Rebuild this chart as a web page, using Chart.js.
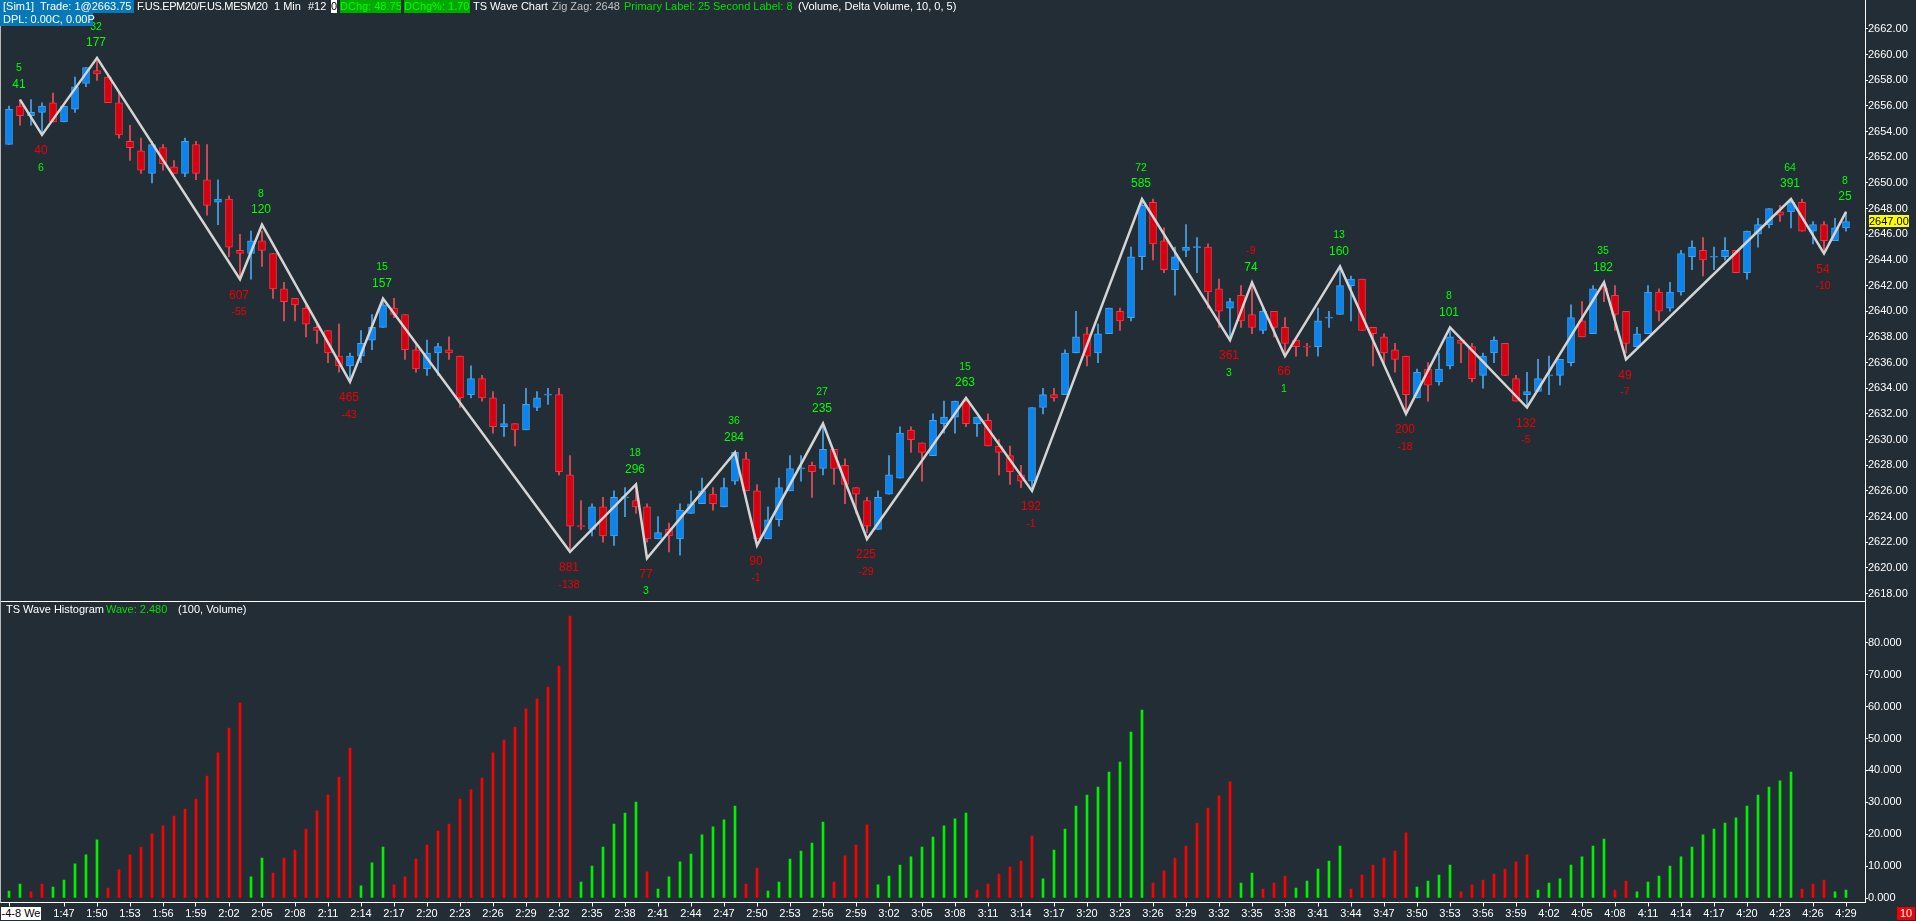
<!DOCTYPE html>
<html>
<head>
<meta charset="utf-8">
<title>TS Wave Chart</title>
<script src="https://cdn.jsdelivr.net/npm/chart.js@4"></script>
<style>
html,body{margin:0;padding:0;background:#222d35;overflow:hidden}
#wrap{position:relative;width:1916px;height:921px}
canvas{position:absolute;left:0;top:0}
.t{position:absolute;font:11px "Liberation Sans",Arial,sans-serif;color:#fff;white-space:pre;line-height:13px;height:13px;z-index:2}
</style>
</head>
<body>
<div id="wrap">
<canvas id="chart" width="1916" height="921"></canvas>
<span class="t" style="left:0;top:0;width:134px;background:#0879b8"></span>
<span class="t" style="left:3px;top:0">[Sim1]</span>
<span class="t" style="left:40px;top:0">Trade: 1@2663.75</span>
<span class="t" style="left:137px;top:0;letter-spacing:-0.35px">F.US.EPM20/F.US.MESM20</span>
<span class="t" style="left:274px;top:0">1 Min</span>
<span class="t" style="left:308px;top:0">#12</span>
<span class="t" style="left:331px;top:0;width:6px;background:#fff;color:#000;text-align:center">0</span>
<span class="t" style="left:340px;top:0;width:61px;background:#00a800;color:#00ff00;overflow:hidden">DChg: 48.75</span>
<span class="t" style="left:404px;top:0;width:66px;background:#00a800;color:#00ff00;overflow:hidden">DChg%: 1.70</span>
<span class="t" style="left:473px;top:0">TS Wave Chart</span>
<span class="t" style="left:552px;top:0;color:#c0c0c0">Zig Zag: 2648</span>
<span class="t" style="left:624px;top:0;color:#00e000">Primary Label: 25</span>
<span class="t" style="left:713px;top:0;color:#00e000">Second Label: 8</span>
<span class="t" style="left:798px;top:0">(Volume, Delta Volume, 10, 0, 5)</span>
<span class="t" style="left:0;top:13px;width:90px;padding-left:3px;background:#0879b8">DPL: 0.00C, 0.00P</span>
<span class="t" style="left:6px;top:603px">TS Wave Histogram</span>
<span class="t" style="left:106px;top:603px;color:#00e000">Wave: 2.480</span>
<span class="t" style="left:178px;top:603px">(100, Volume)</span>
<span class="t" style="left:1px;top:907px;width:40px;background:#fff;color:#000;text-align:center">-4-8 We</span>
<span class="t" style="left:1897px;top:907px;width:18px;background:#f00000;text-align:center">10</span>
</div>
<script>
const opens=[2653,2656,2655.25,2655.5,2656.25,2654.75,2655.75,2657.75,2658.75,2658.25,2656.25,2653.25,2652.5,2650.75,2652.75,2651.25,2650.75,2653,2650.25,2648.5,2648.75,2644.75,2644.5,2645.5,2644.5,2641.75,2641,2640.25,2638.75,2638.5,2636.5,2635.75,2636.5,2637.75,2638.75,2640.25,2639.75,2637,2635.5,2636.75,2637,2636.5,2633.5,2634.75,2633.25,2631,2631.25,2630.75,2632.5,2633.5,2633.5,2627.25,2623.25,2623,2624.75,2622.5,2625.5,2625.25,2624.75,2622.25,2623,2622.25,2624.25,2625,2625.75,2624.75,2626.75,2628.5,2626,2622.25,2623.75,2626,2627.75,2628,2627.75,2629.25,2628,2626.25,2625.25,2623,2625.75,2627,2630.75,2629.75,2628.75,2631.25,2631.75,2633,2631.25,2631.5,2629.5,2628.75,2627.25,2626.75,2632.5,2633.5,2633.5,2636.75,2638.25,2636.75,2638.25,2640,2639.5,2644.25,2648.5,2645.5,2643.25,2644.75,2645,2645,2641.75,2640.25,2641.25,2639.75,2638.5,2640,2638.75,2637.75,2637.25,2637.25,2639.5,2639.75,2642,2642.5,2638.75,2638,2637,2636.5,2633.25,2635.5,2634.5,2635.75,2637.75,2637.25,2635,2636.75,2637.5,2634.75,2633.5,2633.75,2635,2635,2636,2639.25,2638.25,2641.75,2641.25,2640,2637.25,2638.25,2641.5,2640.25,2641.5,2644.25,2644.75,2644.25,2644.25,2644.75,2643,2646,2646.75,2647.75,2647.75,2648.5,2646.25,2646.75,2645.5,2646.5];
const highs=[2656,2656.5,2656.5,2656.25,2657,2656,2658.25,2659,2659.5,2658.5,2657,2654.5,2653.5,2653.25,2653,2651.75,2653.5,2653.25,2653,2650.25,2649,2646,2646.25,2646.25,2644.5,2642.25,2641,2640.5,2639,2638.5,2639,2636.75,2638.5,2639.75,2640.75,2641,2639.75,2637.5,2637.75,2637.5,2638,2636.5,2635.75,2635,2633.75,2632.75,2631.25,2634,2633.75,2634,2634,2628.75,2625.25,2625,2625.5,2626,2626.25,2626.25,2625,2624,2623.5,2625,2626,2627,2626.25,2627,2629,2629,2626.5,2624.75,2627,2628.75,2628.75,2628.25,2631,2629.25,2628.5,2626.25,2625.5,2626,2628.75,2631,2631,2629.75,2632,2633,2633,2633.25,2631.75,2632,2630,2629.5,2628,2632.5,2634,2634,2637,2640,2638.75,2639,2640.25,2640.25,2645,2648.75,2648.75,2646.5,2645,2646.75,2645.75,2645.25,2642.5,2641,2642,2642.25,2640.25,2640,2639.5,2637.75,2637.5,2640.25,2640,2643.5,2642.75,2642.5,2638.75,2638.25,2637.5,2636.5,2635.5,2636,2636.75,2638.5,2637.75,2637.5,2636.75,2638,2637.5,2635,2635.25,2636.25,2636.5,2636.25,2640.5,2640.75,2642,2642.25,2642,2640,2638.75,2642,2641.75,2642.25,2644.75,2645.5,2645.75,2645,2645.75,2644.75,2646.25,2647.25,2648,2648.25,2648.75,2648.75,2647,2647,2647.25,2647.75];
const lows=[2653,2654.5,2654.5,2653.75,2654.75,2654.75,2655.5,2657.5,2658,2656.25,2653.5,2651.75,2650.75,2650,2651,2650.75,2650.5,2650.25,2647.5,2646.75,2644.25,2642.75,2642.5,2643.5,2641,2639.25,2639.25,2638,2637.5,2636,2635.25,2634.75,2636,2637,2638.75,2639.5,2636.25,2635.25,2635,2635,2636.25,2632.5,2633.25,2633,2630.5,2630.25,2629.5,2630.75,2632.25,2632.75,2627.25,2621.5,2623,2622.5,2622,2621.75,2624,2624.25,2622,2622.25,2621.25,2621,2624.25,2625,2624.5,2624.75,2626.5,2626,2622.25,2622.25,2623.25,2626,2626.75,2625.5,2627.25,2626.5,2625,2624.25,2622.75,2623,2625.75,2627,2629,2626.75,2628.75,2630.5,2630.5,2631,2630.25,2629.5,2627.25,2626.5,2626.25,2626,2632,2633,2633.5,2636.75,2635.75,2636,2638.25,2638.5,2639.25,2643.25,2644,2643,2641.25,2644.25,2643,2640.25,2638.75,2637.75,2638.75,2638.25,2638.25,2638,2636.75,2636.5,2636.5,2636.5,2638.75,2639.75,2639.25,2638.5,2635.75,2636,2635.25,2632.25,2633.25,2633,2634.25,2635.5,2636,2634.5,2634,2636,2635,2633,2632.5,2633.75,2633.5,2634.25,2635.75,2638,2638.25,2640.75,2638.5,2636.75,2637.25,2638.25,2639.25,2640,2641.25,2643.25,2642.75,2643.25,2644,2643,2642.5,2645,2646.5,2647,2646.5,2646.25,2645.25,2644.75,2645.5,2646.25];
const closes=[2655.75,2655.25,2655.5,2656,2654.75,2656,2657.5,2659,2658.5,2656.25,2653.75,2652.75,2651,2653,2651.5,2650.75,2653.25,2650.75,2648.25,2648.75,2645,2644.5,2645.5,2644.75,2641.75,2640.75,2640.5,2639,2638.5,2636.75,2635.75,2636.5,2637.5,2638.75,2640.5,2639.75,2637,2635.5,2636.75,2637.25,2636.75,2633.25,2634.75,2633.25,2631,2631.25,2630.75,2632.75,2633.25,2633.5,2627.5,2623.25,2623.25,2624.75,2622.5,2625.5,2625.5,2624.75,2622.25,2622.75,2622.5,2624.5,2625,2626,2625,2626.25,2629,2626,2622.25,2623.75,2626.25,2627.75,2627.75,2627.5,2629.25,2627.75,2626.5,2625.75,2623.25,2625.5,2627.25,2630.5,2630,2629,2631.5,2631.75,2633,2631.25,2631.75,2629.5,2629,2627.5,2626.75,2632.5,2633.5,2633.25,2636.75,2638,2636.5,2638.25,2640.25,2639.25,2644.25,2648.25,2645.25,2643.25,2644.25,2645,2645,2641.5,2640,2640.75,2639.25,2638.75,2640,2638.75,2637.5,2637.25,2637.25,2639.25,2639.5,2642,2642.5,2638.5,2638.25,2636.75,2636.25,2633.5,2635.25,2634.25,2635.5,2638,2637.5,2634.75,2636.5,2637.75,2635,2633,2633.75,2634.75,2635,2636.25,2639.5,2638,2641.75,2641.75,2639.75,2637.5,2638.25,2641.5,2640,2641.5,2644.5,2645,2644,2644.25,2644.75,2643,2646.25,2646.75,2648,2647.5,2648.5,2646.25,2646.75,2645.5,2646.5,2647];
const redDoji=[52,118,145];
const lastPrice=2647;

const zigIdx=[1,3,8,21,23,31,34,51,57,58,66,68,74,78,87,93,103,111,113,116,121,127,131,138,145,147,162,165,167];
const zigPrice=[2656.5,2653.75,2659.75,2642.5,2646.75,2634.5,2641,2621.25,2626.5,2620.75,2629,2621.75,2631.25,2622.25,2633.25,2626,2648.75,2637.75,2642.25,2636.5,2643.5,2632,2638.75,2632.5,2642.25,2636.25,2648.75,2644.5,2647.75];
const zigMain=[41,40,177,607,120,465,157,881,296,77,284,90,235,225,263,192,585,361,74,66,160,200,101,132,182,49,391,54,25];
const zigSecond=[5,6,32,-55,8,-43,15,-138,18,3,36,-1,27,-29,15,-1,72,3,-9,1,13,-18,8,-5,35,-7,64,-10,8];

// negative = down wave (red), thousands
const waveValues=[2.2,4.4,-1.9,-4.4,3.4,5.6,10.7,13.5,18.2,-3.1,-8.8,-13.5,-16,-20.1,-22.6,-25.7,-27.9,-31,-38.2,-45.5,-53.3,-61.1,6.6,12.5,-7.8,-12.5,-15,-21.6,-27.3,-32.3,-37.9,-47,3.8,11,16,-4.1,-6.6,-12.2,-16.6,-21,-23.2,-31,-33.9,-37.6,-45.5,-49.5,-53.6,-59.3,-62.4,-66.1,-72.7,-88.4,5,10,16,23.2,26.6,30.1,-8.2,2.8,6.6,11.3,13.8,19.8,22.3,24.5,28.8,-4.4,-9.4,2.2,5,12.2,14.7,17.2,23.8,-5,-13.2,-16.6,-22.9,4.1,6.9,10.3,12.9,16,19.1,22.6,24.8,26.6,-2.5,-4.4,-7.5,-9.7,-11.6,-19.4,6,15,21.6,28.8,32.3,34.8,39.5,42.6,52,58.9,-4.7,-8.5,-12.5,-16.3,-23.5,-28.2,-32,-36.4,4.7,7.8,-2.8,-4.7,-6.9,3.1,5.3,9.1,11.6,16.3,-2.8,-7.2,-10.3,-12.5,-14.7,-20.4,3.4,5.3,7.2,10.3,-1.9,-4.1,-5.6,-7.5,-9.1,-11.3,-13.5,2.5,4.7,6,10.3,12.9,16.3,18.5,-2.5,-5.3,1.9,5,6.9,10,12.9,16,19.8,21.6,23.5,25.1,28.8,32.3,34.8,36.7,39.5,-2.8,-4.4,-5.6,1.9,2.48];

const priceTicks=[2618,2620,2622,2624,2626,2628,2630,2632,2634,2636,2638,2640,2642,2644,2646,2648,2650,2652,2654,2656,2658,2660,2662];
const waveTicks=[0,10,20,30,40,50,60,70,80];
const tickLabels=["1:47","1:50","1:53","1:56","1:59","2:02","2:05","2:08","2:11","2:14","2:17","2:20","2:23","2:26","2:29","2:32","2:35","2:38","2:41","2:44","2:47","2:50","2:53","2:56","2:59","3:02","3:05","3:08","3:11","3:14","3:17","3:20","3:23","3:26","3:29","3:32","3:35","3:38","3:41","3:44","3:47","3:50","3:53","3:56","3:59","4:02","4:05","4:08","4:11","4:14","4:17","4:20","4:23","4:26","4:29"];

const FONT='"Liberation Sans", Arial, sans-serif';
Chart.defaults.font.family=FONT;
Chart.defaults.font.size=11;
Chart.defaults.color='#ffffff';

const isDown=i=>closes[i]<opens[i]||redDoji.includes(i);
const bodyFill=opens.map((o,i)=>isDown(i)?'#d8000f':'#0a84f0');
const bodyEdge=opens.map((o,i)=>isDown(i)?'#f03a4a':'#46a4ec');
const wickCol=opens.map((o,i)=>isDown(i)?'#ee4f5a':'#4aa6ee');

// zero height bars would vanish, so dojis get a hairline
const bodyData=opens.map((o,i)=>({x:i,y:o===closes[i]?[o-0.04,o+0.04]:[o,closes[i]]}));
const wickData=highs.map((h,i)=>({x:i,y:[lows[i],h]}));
const zigData=zigIdx.map((v,i)=>({x:v,y:zigPrice[i]}));
const waveData=waveValues.map((v,i)=>({x:i,y:Math.abs(v)}));
const waveCol=waveValues.map(v=>v<0?'#ff0000':'#00f000');

const overlay={
  id:'overlay',
  afterDatasetsDraw(chart){
    const ctx=chart.ctx,x=chart.scales.x,y=chart.scales.y;
    ctx.save();
    ctx.textAlign='center';
    ctx.textBaseline='middle';
    zigIdx.forEach((idx,k)=>{
      const px=x.getPixelForValue(idx)-1,py=y.getPixelForValue(zigPrice[k]);
      const prev=k>0?zigPrice[k-1]:zigPrice[k+1]-1,isHigh=zigPrice[k]>prev||(k==0);
      ctx.font='12px '+FONT;
      ctx.fillStyle=isHigh?'#00ff00':'#f00000';
      ctx.fillText(zigMain[k],px,isHigh?py-15:py+16);
      ctx.font='10.5px '+FONT;
      ctx.fillStyle=zigSecond[k]<0?'#f00000':'#00ff00';
      ctx.fillText(zigSecond[k],px,isHigh?py-31:py+33);
    });
    ctx.restore();
  },
  afterDraw(chart){
    const ctx=chart.ctx,y=chart.scales.y,a=chart.chartArea;
    ctx.save();
    ctx.fillStyle='#ffffff';
    ctx.fillRect(0,Math.round(y.bottom),a.right,1);
    ctx.fillStyle='#b8b8b8';
    ctx.fillRect(0,0,1,a.bottom);
    const py=Math.round(y.getPixelForValue(lastPrice));
    ctx.fillStyle='#ffff00';
    ctx.fillRect(a.right+4,py-6,40,12);
    ctx.fillStyle='#000000';
    ctx.font='11px '+FONT;
    ctx.textBaseline='middle';
    ctx.fillText(lastPrice.toFixed(2),a.right+4,py+1);
    ctx.restore();
  }
};

// pane sizes are fixed, no room wanted for half labels at the ends
function fitY(s){s.width=51;s.paddingTop=0;s.paddingBottom=0}

new Chart(document.getElementById('chart'),{
  type:'bar',
  data:{
    datasets:[
      {type:'line',data:zigData,yAxisID:'y',order:0,borderColor:'#d4d4d4',borderWidth:2.5,pointRadius:0,tension:0,fill:false},
      {data:bodyData,yAxisID:'y',order:1,grouped:false,barThickness:7,backgroundColor:bodyFill,borderColor:bodyEdge,borderWidth:1,borderSkipped:false},
      {data:wickData,yAxisID:'y',order:2,grouped:false,barThickness:1,backgroundColor:wickCol,borderWidth:0},
      {data:waveData,yAxisID:'yW',order:3,grouped:false,barThickness:2,backgroundColor:waveCol,borderWidth:0}
    ]
  },
  options:{
    responsive:false,
    animation:false,
    events:[],
    layout:{padding:0},
    plugins:{legend:{display:false},tooltip:{enabled:false}},
    scales:{
      x:{
        type:'linear',min:-9/11,max:1856/11,offset:false,
        afterFit:s=>{s.height=18.5;s.paddingLeft=0;s.paddingRight=0},
        afterBuildTicks:s=>{s.ticks=[{value:0}].concat(tickLabels.map((t,k)=>({value:5+3*k})))},
        grid:{offset:false,drawOnChartArea:false,drawTicks:true,tickLength:4,tickColor:'#ffffff'},
        border:{color:'#ffffff'},
        ticks:{autoSkip:false,maxRotation:0,padding:1,color:'#ffffff',callback:v=>v===0?'':tickLabels[(v-5)/3]}
      },
      y:{
        position:'right',stack:'panes',stackWeight:601,weight:0,
        min:2617.42,max:2664.26,
        afterFit:fitY,
        afterBuildTicks:s=>{s.ticks=priceTicks.map(v=>({value:v}))},
        grid:{drawOnChartArea:false,drawTicks:true,tickLength:3,tickColor:'#ffffff'},
        border:{color:'#ffffff'},
        ticks:{autoSkip:false,padding:0,color:'#ffffff',callback:v=>v.toFixed(2)}
      },
      yW:{
        position:'right',stack:'panes',stackWeight:301.5,weight:1,
        min:-1.41,max:93.1,
        afterFit:fitY,
        afterBuildTicks:s=>{s.ticks=waveTicks.map(v=>({value:v}))},
        grid:{drawOnChartArea:false,drawTicks:true,tickLength:3,tickColor:'#ffffff'},
        border:{color:'#ffffff'},
        ticks:{autoSkip:false,padding:0,color:'#ffffff',callback:v=>v.toFixed(3)}
      }
    }
  },
  plugins:[overlay]
});
</script>
</body>
</html>
